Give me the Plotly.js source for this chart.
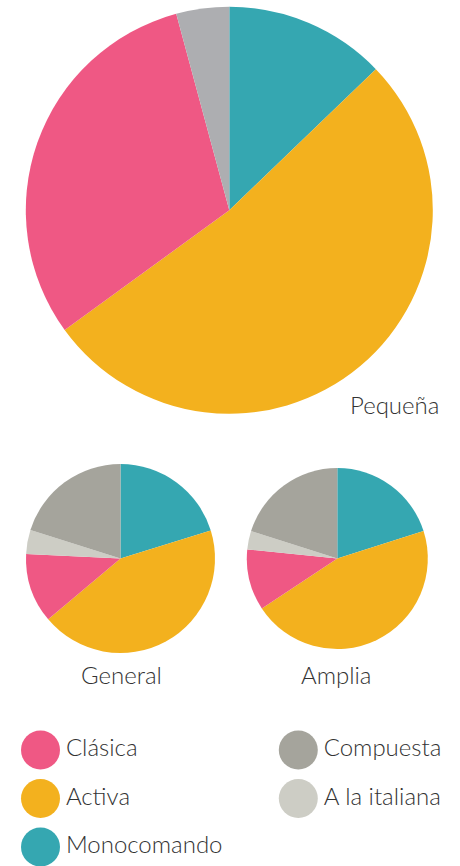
<!DOCTYPE html>
<html><head><meta charset="utf-8">
<script src="https://cdn.plot.ly/plotly-3.0.1.min.js"></script>
<style>html,body{margin:0;padding:0;background:#fff;}#chart{width:460px;height:866px;}</style>
</head><body><div id="chart"></div>
<script>
// Data
const categories = ["Monocomando", "Activa", "Clásica", "A la italiana", "Compuesta"];
const pequenaLabels = ["Monocomando", "Activa", "Clásica", "Compuesta"];
const pequenaValues = [12.8, 52.2, 30.8, 4.2];
const generalValues = [20.2, 43.6, 11.9, 4.1, 20.1];
const ampliaValues = [20.1, 45.6, 10.9, 3.3, 20.1];
const pieNames = ["Pequeña", "General", "Amplia"];
const legendLabels = ["Clásica", "Activa", "Monocomando", "Compuesta", "A la italiana"];

const colorMap = {
  "Monocomando": "#35a7b1",
  "Activa": "#f3b11e",
  "Clásica": "#ef5884",
  "Compuesta": "#a5a49c",
  "A la italiana": "#cdcdc5"
};
const pequenaColors = ["#35a7b1", "#f3b11e", "#ef5884", "#adaeb1"];

const W = 460, H = 866;
function dom(cx, cy, r) {
  return {x: [(cx - r) / W, (cx + r) / W], y: [(H - cy - r) / H, (H - cy + r) / H]};
}
const font = {family: "Lato, 'Open Sans', sans-serif", color: "#333333", size: 24, weight: 300};

const pieBase = {
  type: "pie", sort: false, direction: "clockwise", rotation: 0,
  textinfo: "none", hoverinfo: "label+percent", showlegend: false,
  marker: {line: {width: 0}}
};

const traces = [
  Object.assign({}, pieBase, {labels: pequenaLabels, values: pequenaValues,
    marker: {colors: pequenaColors, line: {width: 0}}, domain: dom(229.3, 210.3, 203.5)}),
  Object.assign({}, pieBase, {labels: categories, values: generalValues,
    marker: {colors: categories.map(c => colorMap[c]), line: {width: 0}}, domain: dom(120.5, 558.5, 94.5)}),
  Object.assign({}, pieBase, {labels: categories, values: ampliaValues,
    marker: {colors: categories.map(c => colorMap[c]), line: {width: 0}}, domain: dom(337.3, 558.5, 90.5)})
];

// Custom legend as circle markers
const legX = legendLabels.map((l, i) => i < 3 ? 40.5 : 298.3);
const legY = legendLabels.map((l, i) => 750 + (i % 3) * 48.5);
traces.push({
  type: "scatter", mode: "markers+text", x: legX, y: legY,
  text: legendLabels, textposition: "middle right",
  textfont: font, cliponaxis: false,
  marker: {size: 39, color: legendLabels.map(l => colorMap[l]), line: {width: 0}},
  hoverinfo: "skip", showlegend: false, xaxis: "x", yaxis: "y"
});

const layout = {
  width: W, height: H, margin: {l: 0, r: 0, t: 0, b: 0},
  paper_bgcolor: "#fff", plot_bgcolor: "rgba(0,0,0,0)",
  xaxis: {range: [0, W], domain: [0, 1], visible: false, fixedrange: true},
  yaxis: {range: [H, 0], domain: [0, 1], visible: false, fixedrange: true},
  font: font,
  annotations: [
    {text: pieNames[0], x: 441 / W, y: (H - 421) / H, xref: "paper", yref: "paper", xanchor: "right", yanchor: "bottom", showarrow: false, font: font},
    {text: pieNames[1], x: 121.5 / W, y: (H - 691) / H, xref: "paper", yref: "paper", xanchor: "center", yanchor: "bottom", showarrow: false, font: font},
    {text: pieNames[2], x: 335.5 / W, y: (H - 691) / H, xref: "paper", yref: "paper", xanchor: "center", yanchor: "bottom", showarrow: false, font: font}
  ]
};

Plotly.newPlot("chart", traces, layout, {displayModeBar: false, staticPlot: true});
</script></body></html>
